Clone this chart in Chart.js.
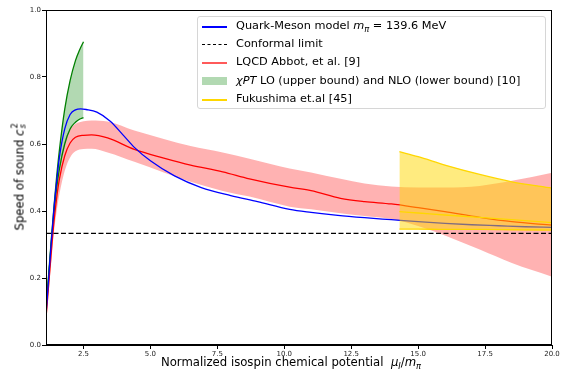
<!DOCTYPE html>
<html>
<head>
<meta charset="utf-8">
<script src="https://cdn.jsdelivr.net/npm/chart.js@4.4.0/dist/chart.umd.min.js"></script>
<style>
  body { margin: 0; background: #fff; font-family: 'DejaVu Sans', sans-serif; }
  #wrap { position: relative; width: 561px; height: 375px; }
  #chart { position: absolute; left: 0; top: 0; }
  #legend { position: absolute; left: 197px; top: 16px; width: 347px; height: 91px;
            border: 1px solid #d6d6d6; border-radius: 3px; background: rgba(255,255,255,0.8);
            font-size: 11.3px; color: #000; }
  .row { position: absolute; left: 0; height: 18px; line-height: 18px; white-space: nowrap; }
  .hd { position: absolute; left: 4px; width: 25px; }
  .tx { position: absolute; left: 38px; top: 0; }
  .lbl { position: absolute; font-size: 11.7px; line-height: 14px; white-space: nowrap; color: #000; }
  sub { font-size: 8.3px; vertical-align: -2.5px; line-height: 0; }
</style>
</head>
<body>
<div id="wrap">
  <canvas id="chart" width="561" height="375"></canvas>

  <div id="legend">
    <div class="row" style="top:0px">
      <div class="hd" style="top:9px;height:1.5px;background:#0000ff"></div>
      <div class="tx">Quark-Meson model <i>m</i><sub><i>π</i></sub> = 139.6 MeV</div>
    </div>
    <div class="row" style="top:18px">
      <div class="hd" style="top:9px;border-top:1.5px dashed #000"></div>
      <div class="tx">Conformal limit</div>
    </div>
    <div class="row" style="top:36px">
      <div class="hd" style="top:9px;height:2px;background:#ff5a5a"></div>
      <div class="tx">LQCD Abbot, et al. [9]</div>
    </div>
    <div class="row" style="top:54.5px">
      <div class="hd" style="top:5px;height:8px;background:rgba(0,128,0,0.3)"></div>
      <div class="tx"><i>χPT</i> LO (upper bound) and NLO (lower bound) [10]</div>
    </div>
    <div class="row" style="top:73px">
      <div class="hd" style="top:9px;height:1.5px;background:#ffd700"></div>
      <div class="tx">Fukushima et.al [45]</div>
    </div>
  </div>

  <div class="lbl" style="left:291px;top:355px;transform:translateX(-50%)">Normalized isospin chemical potential&nbsp;&nbsp;<i>μ</i><sub><i>I</i></sub>/<i>m</i><sub><i>π</i></sub></div>
  <div class="lbl" style="left:19px;top:177px;transform:translate(-50%,-50%) rotate(-90deg)">Speed of sound <i>c</i><span style="display:inline-block;position:relative;width:6px;height:12px;"><span style="position:absolute;left:1px;top:-1px;font-size:8.3px;line-height:8.3px">2</span><span style="position:absolute;left:1px;top:7px;font-size:8.3px;line-height:8.3px;font-style:italic">s</span></span></div>
</div>

<script>
// ---- data ----
const X_TICKS = [2.5, 5, 7.5, 10, 12.5, 15, 17.5, 20];

// Quark-Meson model
const qmX = [1.1, 1.2, 1.3, 1.4, 1.5, 1.6, 1.8, 2.0, 2.2, 2.4, 2.6, 3.0, 3.5, 4.0, 4.4, 5.0, 5.9, 6.9, 8, 9, 10.2, 11, 12, 13, 14, 15, 16, 17, 18, 19, 20];
const qmY = [0.09, 0.2, 0.31, 0.41, 0.49, 0.56, 0.645, 0.688, 0.702, 0.705, 0.703, 0.695, 0.668, 0.625, 0.59, 0.55, 0.505, 0.47, 0.446, 0.428, 0.405, 0.396, 0.387, 0.38, 0.374, 0.368, 0.363, 0.359, 0.356, 0.353, 0.351];

// conformal limit
const confX = [1.1, 20];
const confY = [0.3333, 0.3333];

// LQCD (Abbott et al.) central value and band
const lqX = [1.1, 1.2, 1.3, 1.4, 1.5, 1.6, 1.8, 2.0, 2.2, 2.5, 2.8, 3.4, 4.4, 5.5, 6.5, 7.7, 8.7, 10.2, 11, 12.1, 13, 14, 15, 16, 17.3, 18.5, 20];
const lqMid = [0.08, 0.18, 0.28, 0.37, 0.44, 0.495, 0.565, 0.603, 0.62, 0.626, 0.627, 0.618, 0.584, 0.558, 0.537, 0.517, 0.496, 0.471, 0.461, 0.438, 0.428, 0.421, 0.41, 0.398, 0.381, 0.368, 0.358];
const lqHi  = [0.1, 0.2, 0.31, 0.395, 0.475, 0.535, 0.61, 0.645, 0.66, 0.668, 0.67, 0.667, 0.64, 0.615, 0.594, 0.575, 0.556, 0.527, 0.515, 0.496, 0.482, 0.473, 0.47, 0.47, 0.475, 0.49, 0.514];
const lqLo  = [0.06, 0.16, 0.25, 0.34, 0.40, 0.45, 0.52, 0.56, 0.578, 0.585, 0.586, 0.575, 0.547, 0.515, 0.487, 0.46, 0.443, 0.413, 0.405, 0.393, 0.385, 0.376, 0.355, 0.327, 0.285, 0.245, 0.204];

// chiPT LO (upper) and NLO (lower)
const chX  = [1.1, 1.2, 1.3, 1.4, 1.5, 1.6, 1.8, 2.0, 2.2, 2.35, 2.5];
const chLO = [0.104, 0.212, 0.317, 0.415, 0.504, 0.581, 0.704, 0.789, 0.849, 0.88, 0.905];
const chNLO = [0.1, 0.205, 0.305, 0.395, 0.47, 0.525, 0.6, 0.645, 0.665, 0.674, 0.679];

// Fukushima et al.
const fkX   = [14.3, 15, 16, 17.3, 18.5, 20];
const fkHi  = [0.577, 0.562, 0.537, 0.509, 0.487, 0.468];
const fkMid = [0.398, 0.394, 0.388, 0.381, 0.374, 0.365];
const fkLo  = [0.346, 0.346, 0.345, 0.345, 0.344, 0.343];

const pts = (xs, ys) => xs.map((x, i) => ({ x, y: ys[i] }));
const NONE = 'rgba(0,0,0,0)';

function line(data, color, order, extra) {
  return Object.assign({
    data, borderColor: color, borderWidth: 1.3, pointRadius: 0,
    cubicInterpolationMode: 'monotone', fill: false, order
  }, extra || {});
}

const datasets = [
  /*0*/ line(pts(fkX, fkHi), '#ffd700', 1, { fill: { target: 2 }, backgroundColor: 'rgba(255,215,0,0.5)' }),
  /*1*/ line(pts(fkX, fkMid), '#ffd700', 0),
  /*2*/ line(pts(fkX, fkLo), '#ffd700', 0),
  /*3*/ line(pts(confX, confY), '#000', 2, { borderDash: [5, 2.5] }),
  /*4*/ line(pts(qmX, qmY), '#0000ff', 3),
  /*5*/ line(pts(lqX, lqMid), '#ff0000', 4),
  /*6*/ line(pts(chX, chLO), '#008000', 5, { fill: { target: 7 }, backgroundColor: 'rgba(0,128,0,0.3)' }),
  /*7*/ line(pts(chX, chNLO), '#008000', 5),
  /*8*/ line(pts(lqX, lqHi), NONE, 6, { fill: { target: 9 }, backgroundColor: 'rgba(255,0,0,0.3)', borderWidth: 0.01 }),
  /*9*/ line(pts(lqX, lqLo), NONE, 6, { borderWidth: 0.01 })
];

const frame = {
  id: 'frame',
  afterDatasetsDraw(chart) {
    const a = chart.chartArea, ctx = chart.ctx;
    ctx.save();
    ctx.strokeStyle = '#000';
    ctx.lineWidth = 1;
    ctx.strokeRect(Math.round(a.left) + 0.5, Math.round(a.top) + 0.5,
                   Math.round(a.right - a.left) - 1, Math.round(a.bottom - a.top) - 1);
    ctx.restore();
  }
};

const tickFont = { family: 'DejaVu Sans', size: 7 };

new Chart(document.getElementById('chart'), {
  type: 'line',
  data: { datasets },
  plugins: [frame],
  options: {
    responsive: false,
    devicePixelRatio: 1,
    animation: false,
    layout: { padding: { left: 0, right: 9, top: 10, bottom: 0 } },
    plugins: { legend: { display: false }, tooltip: { enabled: false } },
    scales: {
      x: {
        type: 'linear', min: 1.1, max: 20,
        afterBuildTicks: s => { s.ticks = X_TICKS.map(v => ({ value: v })); },
        afterFit: s => { s.height = 30; },
        grid: { drawOnChartArea: false, drawTicks: true, tickLength: 4, color: '#000' },
        border: { display: true, color: '#000', width: 1 },
        ticks: { font: tickFont, color: '#222', padding: 1, maxRotation: 0, autoSkip: false,
                 callback: v => (+v).toFixed(1) }
      },
      y: {
        type: 'linear', min: 0, max: 1,
        afterFit: s => { s.width = 46; },
        grid: { drawOnChartArea: false, drawTicks: true, tickLength: 4, color: '#000' },
        border: { display: true, color: '#000', width: 1 },
        ticks: { font: tickFont, color: '#222', padding: 1, stepSize: 0.2,
                 callback: v => (+v).toFixed(1) }
      }
    }
  }
});
</script>
</body>
</html>
